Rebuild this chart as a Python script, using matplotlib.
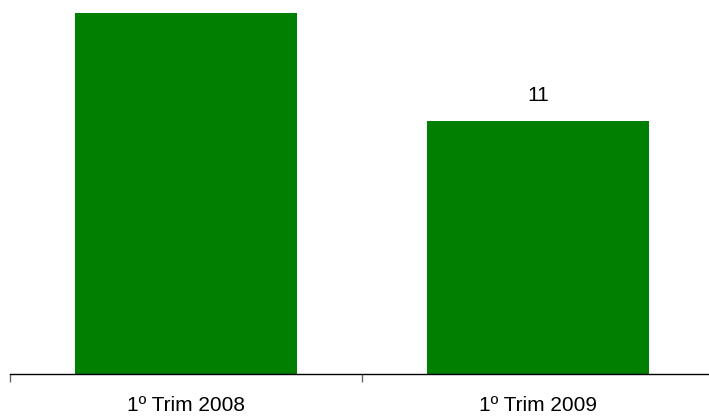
import matplotlib.pyplot as plt

categories = ['1º Trim 2008', '1º Trim 2009']
values = [15.7, 11]

plt.rcParams['font.family'] = ['Liberation Sans', 'DejaVu Sans']

fig = plt.figure(figsize=(7.09, 4.17), dpi=100)
ax = fig.add_axes([10 / 709, 43 / 417, 704 / 709, 374 / 417])

ymax = 374 / 23
x = list(range(len(categories)))
bars = ax.bar(x, values, width=0.63, color='#007f00')
for b, v in zip(bars, values):
    # value labels only where there's room above the bar
    if v + 1.6 < ymax:
        ax.text(b.get_x() + b.get_width() / 2, v + 1.1, '{:.0f}'.format(v),
                ha='center', va='center', fontsize=15)

ax.set_xlim(-0.5, 1.5)
ax.set_ylim(0, ymax)

# ticks between groups, labels under the bars
ax.set_xticks([-0.5, 0.5, 1.5])
ax.set_xticklabels([])
ax.set_xticks(x, minor=True)
ax.set_xticklabels(categories, minor=True, fontsize=15)
ax.tick_params(axis='x', which='major', length=6, width=1, color='#666666')
ax.tick_params(axis='x', which='minor', length=0, pad=16)
ax.set_yticks([])

for s in ['top', 'right', 'left']:
    ax.spines[s].set_visible(False)
ax.spines['bottom'].set_linewidth(1)

plt.savefig('out.png', dpi=100)
